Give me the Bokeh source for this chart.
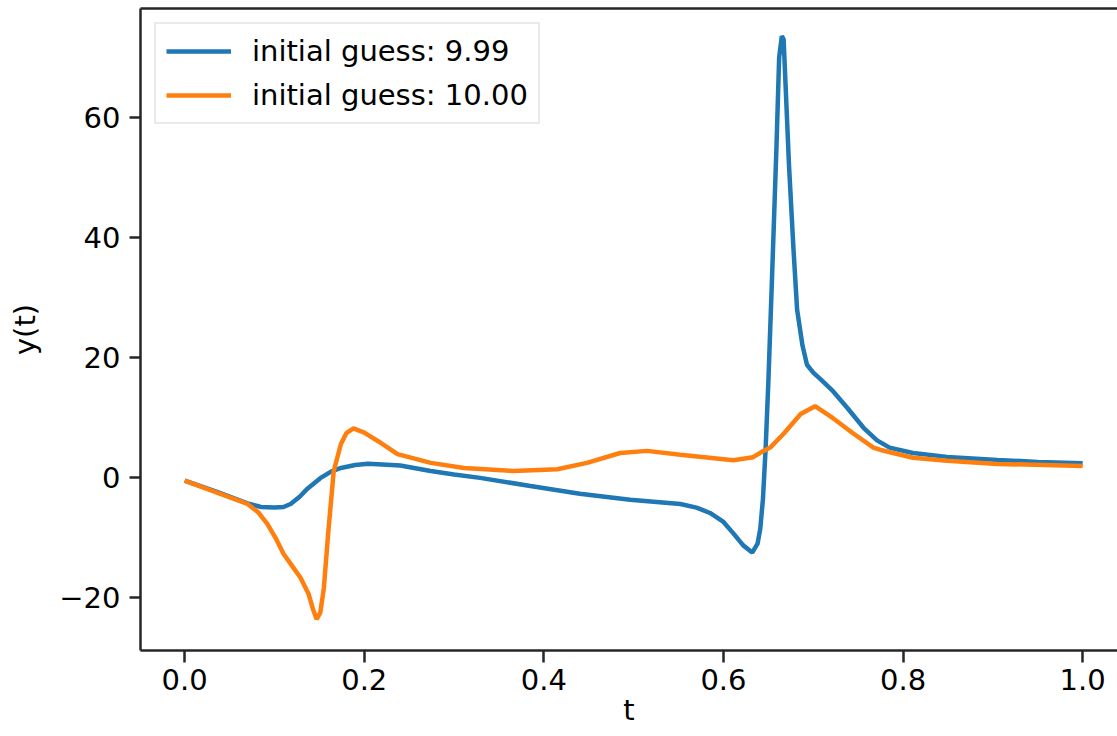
from bokeh.plotting import figure
from bokeh.models import (Range1d, FixedTicker, LinearAxis, Legend, LegendItem,
                          PrintfTickFormatter)
from bokeh.embed import file_html
from bokeh.resources import INLINE

# ---- data ----
t_blue = [0.0, 0.036, 0.07, 0.085, 0.1, 0.11, 0.118, 0.128, 0.137, 0.151, 0.163,
          0.174, 0.19, 0.204, 0.22, 0.24, 0.274, 0.3, 0.329, 0.385, 0.44, 0.496,
          0.552, 0.57, 0.585, 0.6, 0.611, 0.622, 0.632, 0.638, 0.641, 0.644, 0.647,
          0.65, 0.654, 0.659, 0.662, 0.665, 0.667, 0.669, 0.673, 0.678, 0.682,
          0.688, 0.693, 0.7, 0.708, 0.722, 0.738, 0.756, 0.771, 0.785, 0.811,
          0.849, 0.905, 0.95, 1.0]
y_blue = [-0.5, -2.4, -4.3, -4.9, -5.0, -4.9, -4.4, -3.2, -1.8, -0.1, 1.0,
          1.6, 2.1, 2.3, 2.2, 2.0, 1.1, 0.5, -0.05, -1.4, -2.7, -3.7,
          -4.4, -5.0, -5.9, -7.4, -9.3, -11.3, -12.5, -11.0, -8.5, -3.5, 5.0,
          16.0, 33.0, 55.0, 70.0, 73.6, 73.0, 66.0, 52.0, 38.0, 28.0,
          22.0, 18.8, 17.5, 16.4, 14.4, 11.6, 8.3, 6.2, 5.0, 4.1,
          3.45, 2.95, 2.6, 2.4]

t_orange = [0.0, 0.036, 0.07, 0.082, 0.092, 0.101, 0.11, 0.12, 0.129, 0.138,
            0.143, 0.147, 0.151, 0.155, 0.16, 0.166, 0.174, 0.18, 0.188, 0.2,
            0.215, 0.237, 0.274, 0.311, 0.366, 0.415, 0.448, 0.485, 0.515, 0.552,
            0.611, 0.633, 0.644, 0.652, 0.667, 0.686, 0.702, 0.722, 0.745, 0.767,
            0.775, 0.811, 0.849, 0.905, 1.0]
y_orange = [-0.5, -2.5, -4.4, -5.8, -7.7, -10.0, -12.7, -14.8, -16.7, -19.4,
            -22.0, -23.6, -22.5, -18.4, -8.9, 1.1, 5.6, 7.4, 8.2, 7.5,
            6.1, 3.9, 2.45, 1.6, 1.1, 1.4, 2.45, 4.1, 4.45, 3.8,
            2.9, 3.4, 4.4, 5.0, 7.3, 10.6, 11.9, 9.9, 7.3, 5.0,
            4.6, 3.3, 2.8, 2.28, 1.95]

labels = ["initial guess: 9.99", "initial guess: 10.00"]
x_ticks = [0.0, 0.2, 0.4, 0.6, 0.8, 1.0]
y_ticks = [-20, 0, 20, 40, 60]
x_label = "t"
y_label = "y(t)"

FONT = "DejaVu Sans"
FS = "29px"
AX = "#262626"

p = figure(width=1117, height=736, output_backend="svg", toolbar_location=None,
           x_range=Range1d(-0.0492, 1.0388), y_range=Range1d(-28.82, 78.18),
           min_border_left=140, min_border_right=0, min_border_top=8,
           min_border_bottom=86)
p.outline_line_color = None
p.grid.visible = False
p.background_fill_color = "white"

r1 = p.line(t_blue, y_blue, line_color="#1f77b4", line_width=4.5)
r2 = p.line(t_orange, y_orange, line_color="#ff7f0e", line_width=4.5)

for ax in (p.xaxis[0], p.yaxis[0]):
    ax.axis_line_color = AX
    ax.axis_line_width = 2.5
    ax.major_tick_line_color = AX
    ax.major_tick_line_width = 2.5
    ax.major_tick_in = 0
    ax.minor_tick_line_color = None
    ax.major_label_text_font = FONT
    ax.major_label_text_font_size = FS
    ax.major_label_text_color = "black"
    ax.axis_label_text_font = FONT
    ax.axis_label_text_font_size = FS
    ax.axis_label_text_font_style = "normal"
    ax.axis_label_text_color = "black"

p.xaxis[0].ticker = FixedTicker(ticks=x_ticks)
p.xaxis[0].formatter = PrintfTickFormatter(format="%.1f")
p.xaxis[0].major_tick_out = 12
p.xaxis[0].major_label_standoff = 6
p.xaxis[0].axis_label = x_label
p.xaxis[0].axis_label_standoff = 0

p.yaxis[0].ticker = FixedTicker(ticks=y_ticks)
p.yaxis[0].major_label_overrides = {-20: "\u221220"}
p.yaxis[0].major_tick_out = 11
p.yaxis[0].major_label_standoff = 9
p.yaxis[0].axis_label = y_label
p.yaxis[0].axis_label_standoff = 14

top = LinearAxis(ticker=FixedTicker(ticks=[]), major_tick_out=0, major_tick_in=0,
                 major_label_standoff=0, axis_line_width=2.5, axis_line_color=AX,
                 minor_tick_line_color=None, major_tick_line_color=None)
p.add_layout(top, "above")

legend = Legend(items=[LegendItem(label=labels[0], renderers=[r1]),
                       LegendItem(label=labels[1], renderers=[r2])],
                location="top_left", margin=14, padding=10, spacing=10,
                glyph_width=65, glyph_height=34, label_height=34, label_standoff=21,
                label_text_font=FONT, label_text_font_size=FS,
                label_text_color="black",
                border_line_color="#d6d6d6", border_line_width=2.5,
                background_fill_color="white", background_fill_alpha=1.0)
p.add_layout(legend)

open("out.html", "w").write(file_html(p, INLINE))
